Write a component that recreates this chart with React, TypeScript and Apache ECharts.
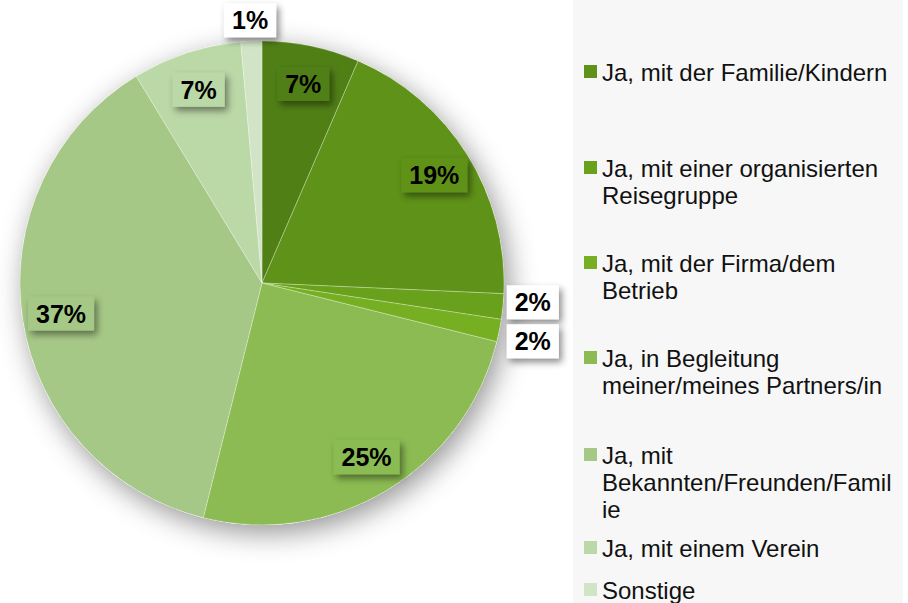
import React, { useEffect, useRef } from "react";
import * as echarts from "echarts";

// ---- data ----
const categories = [
  "Nein",
  "Ja, mit der Familie/Kindern",
  "Ja, mit einer organisierten Reisegruppe",
  "Ja, mit der Firma/dem Betrieb",
  "Ja, in Begleitung meiner/meines Partners/in",
  "Ja, mit Bekannten/Freunden/Familie",
  "Ja, mit einem Verein",
  "Sonstige",
];
const shares = [6.5, 19.2, 1.7, 1.5, 25.0, 37.4, 7.3, 1.4];
const colors = [
  "#507f16",
  "#5f9218",
  "#69a11c",
  "#77af22",
  "#8bbb52",
  "#a6c886",
  "#bbd8a7",
  "#d1e5c6",
];
// legend (visible entries, as wrapped in the picture)
const legendLines = [
  ["Ja, mit der Familie/Kindern"],
  ["Ja, mit einer organisierten", "Reisegruppe"],
  ["Ja, mit der Firma/dem", "Betrieb"],
  ["Ja, in Begleitung", "meiner/meines Partners/in"],
  ["Ja, mit", "Bekannten/Freunden/Famil", "ie"],
  ["Ja, mit einem Verein"],
  ["Sonstige"],
];

// ---- layout ----
const CX = 262;
const CY = 283;
const R = 242;
const legendFirstLineY = [72, 168, 263, 358, 455, 548, 590];
const FONT = "'Liberation Sans', Arial, sans-serif";

export default function App() {
  const ref = useRef<HTMLDivElement>(null);

  useEffect(() => {
    if (!ref.current) return;
    const chart = echarts.init(ref.current, undefined, { renderer: "svg" });
    const total = shares.reduce((a, b) => a + b, 0);
    const cum: number[] = [];
    shares.reduce((acc, v, i) => {
      cum[i] = acc;
      return acc + v;
    }, 0);

    const isOutside = (i: number) => i >= 0 && i < shares.length && shares[i] < 3;
    const rawPos = (i: number, w: number, h: number) => {
      const mid = ((cum[i] + shares[i] / 2) / total) * Math.PI * 2;
      const s = Math.sin(mid);
      const c = Math.cos(mid);
      if (isOutside(i)) {
        const rr = R + 4;
        return { x: CX + rr * s + (s * w) / 2, y: CY - rr * c - (c * h) / 2 };
      }
      const f = 0.84;
      return { x: CX + R * f * s, y: CY - R * f * c };
    };

    const legendGraphics: any[] = [];
    legendLines.forEach((lines, i) => {
      const y = legendFirstLineY[i];
      legendGraphics.push({
        type: "rect",
        shape: { x: 584, y: y - 7, width: 13, height: 13 },
        style: { fill: colors[i + 1] },
        silent: true,
      });
      legendGraphics.push({
        type: "text",
        x: 602,
        y: y - 13.5,
        style: {
          text: lines.join("\n"),
          font: `24px ${FONT}`,
          lineHeight: 27,
          fill: "#111111",
          verticalAlign: "top",
        },
        silent: true,
      });
    });

    const option: any = {
      animation: false,
      backgroundColor: "#ffffff",
      graphic: [
        {
          type: "rect",
          shape: { x: 573, y: 0, width: 330, height: 603 },
          style: { fill: "#f7f7f7" },
          silent: true,
          z: -10,
        },
        ...legendGraphics,
      ],
      series: [
        {
          type: "pie",
          center: [CX, CY],
          radius: R,
          silent: true,
          z: 1,
          label: { show: false },
          labelLine: { show: false },
          itemStyle: {
            color: "#ffffff",
            shadowBlur: 28,
            shadowColor: "rgba(0,0,0,0.42)",
            shadowOffsetX: 5,
            shadowOffsetY: 8,
          },
          data: [{ value: 1, name: "shadow" }],
        },
        {
          type: "pie",
          center: [CX, CY],
          radius: R,
          startAngle: 90,
          clockwise: true,
          avoidLabelOverlap: false,
          z: 2,
          itemStyle: {
            borderColor: "rgba(255,255,255,0.45)",
            borderWidth: 0.6,
          },
          label: {
            show: true,
            position: "inside",
            formatter: (p: any) => Math.round(p.value) + "%",
            fontSize: 25,
            fontWeight: "bold",
            fontFamily: FONT,
            color: "#000000",
            padding: [5, 8, 4, 8],
            shadowBlur: 7,
            shadowColor: "rgba(0,0,0,0.45)",
            shadowOffsetX: 3,
            shadowOffsetY: 4,
          },
          labelLine: { show: false },
          labelLayout: (params: any) => {
            const i = params.dataIndex;
            const w = params.labelRect.width;
            const h = params.labelRect.height;
            const p = rawPos(i, w, h);
            let y = p.y;
            let x = p.x;
            if (isOutside(i)) {
              // separate adjacent small outside labels vertically
              if (isOutside(i - 1)) {
                const q = rawPos(i - 1, w, h);
                const gap = h + 5 - Math.abs(p.y - q.y);
                if (gap > 0) {
                  y += gap / 2;
                  x += 4;
                }
              }
              if (isOutside(i + 1)) {
                const q = rawPos(i + 1, w, h);
                const gap = h + 5 - Math.abs(p.y - q.y);
                if (gap > 0) y -= gap / 2;
              }
            }
            return { x, y, align: "center", verticalAlign: "middle" };
          },
          data: shares.map((v, i) => ({
            value: v,
            name: categories[i],
            itemStyle: { color: colors[i] },
            label: { backgroundColor: v < 3 ? "#ffffff" : colors[i] },
          })),
        },
      ],
    };
    chart.setOption(option);
    return () => chart.dispose();
  }, []);

  return (
    <div
      ref={ref}
      style={{ position: "fixed", left: 0, top: 0, width: 908, height: 603, background: "#fff" }}
    />
  );
}
